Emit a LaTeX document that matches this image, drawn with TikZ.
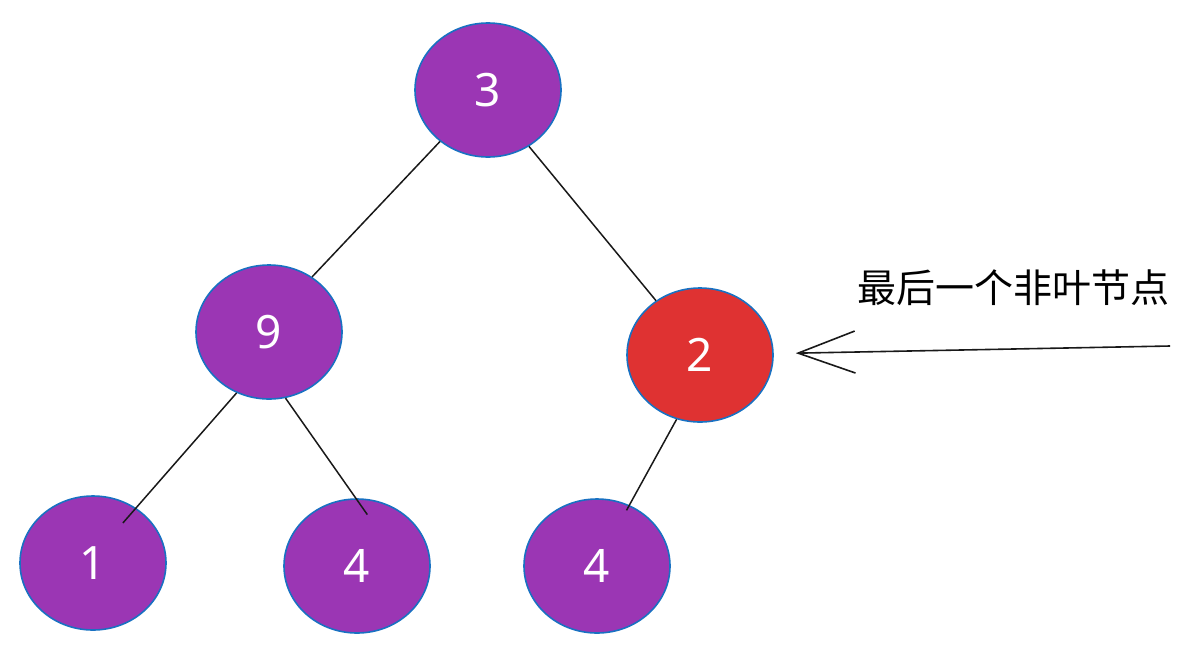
\documentclass[tikz,border=0pt]{standalone}
\usepackage{fontspec}
\setmainfont{Noto Sans}
\newfontfamily\cjk{Noto Sans CJK SC}
\usepackage{tikz}
\usetikzlibrary{shapes.geometric, arrows.meta}
\definecolor{heapPurple}{RGB}{155,54,180}
\definecolor{heapRed}{RGB}{223,50,50}
\definecolor{heapEdge}{RGB}{25,113,194}
\tikzset{
    base/.style={draw=heapEdge, line width=1.6pt, ellipse, minimum width=146pt, minimum height=134pt, inner sep=0pt, text=white, font=\fontsize{46}{46}\selectfont},
    branch/.style={line width=1.5pt, black!90},
    pointer/.style={line width=1.6pt, black!90, -{Straight Barb[length=57pt, width=42pt, line width=1.6pt]}}
}

\begin{document}
\begin{tikzpicture}[x=1pt, y=-1pt]
\useasboundingbox (0,0) rectangle (1193,654);
\node[base, fill=heapPurple] (n3) at (488,90) {3};
\node[base, fill=heapPurple] (n9) at (269,332) {9};
\node[base, fill=heapRed] (n2) at (700,355) {2};
\node[base, fill=heapPurple] (n1) at (93,563) {1};
\node[base, fill=heapPurple] (n4a) at (357,566) {4};
\node[base, fill=heapPurple] (n4b) at (597,566) {4};
\draw[branch] (n3.227) -- (n9.52);
\draw[branch] (n3.306) -- (n2.129);
\draw[branch, shorten >=-20pt] (n9.242) -- (n1.52);
\draw[branch, shorten >=-20pt] (n9.284) -- (n4a.91);
\draw[branch, shorten >=-6pt] (n2.250) -- (n4b.62);
\node[font=\cjk\fontsize{39}{39}\selectfont] (lbl) at (1013,288) {最后一个非叶节点};
\coordinate (tail) at (1170,346);
\draw[pointer, shorten >=22pt] (tail) -- (n2);
\end{tikzpicture}
\end{document}
